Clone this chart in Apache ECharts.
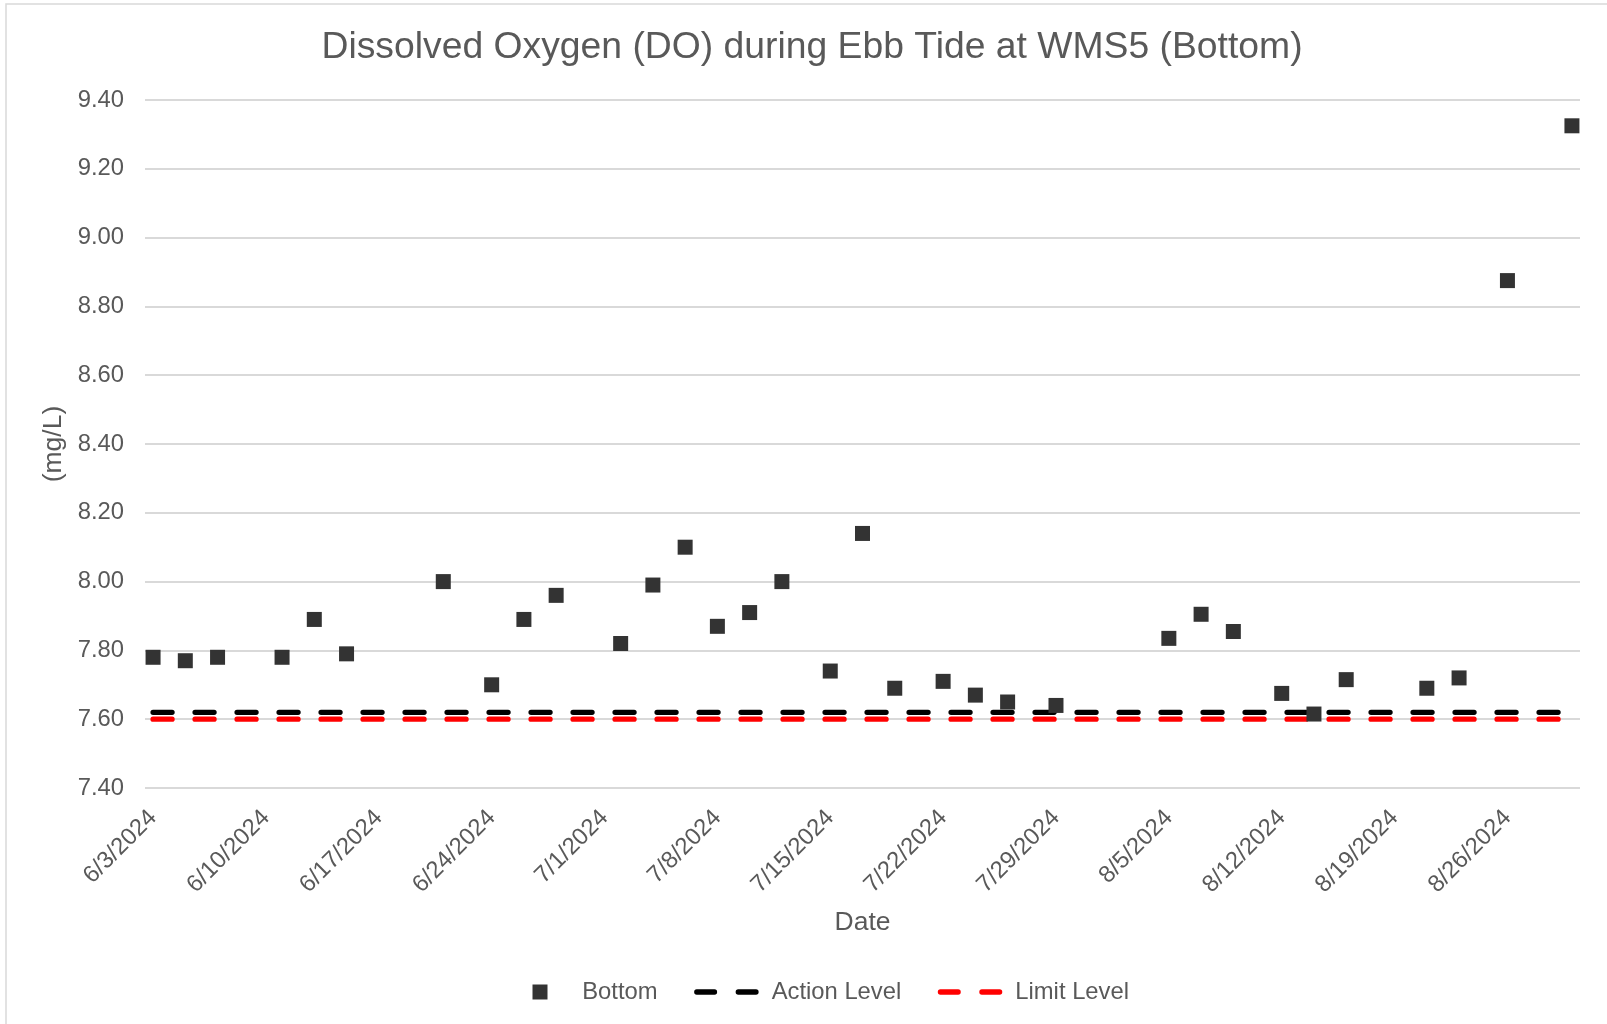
<!DOCTYPE html>
<html>
<head>
<meta charset="utf-8">
<title>Dissolved Oxygen (DO) during Ebb Tide at WMS5 (Bottom)</title>
<script src="https://cdn.jsdelivr.net/npm/echarts@6/dist/echarts.min.js"></script>
<style>
  html, body { margin: 0; padding: 0; background: #ffffff; }
  #chart { width: 1607px; height: 1024px; }
</style>
</head>
<body>
<div id="chart"></div>
<script>
// Sampling dates (bottom-layer DO readings)
const sampleDates = [
  '6/3/2024', '6/5/2024', '6/7/2024', '6/11/2024', '6/13/2024', '6/15/2024',
  '6/21/2024', '6/24/2024', '6/26/2024', '6/28/2024', '7/2/2024', '7/4/2024',
  '7/6/2024', '7/8/2024', '7/10/2024', '7/12/2024', '7/15/2024', '7/17/2024',
  '7/19/2024', '7/22/2024', '7/24/2024', '7/26/2024', '7/29/2024', '8/5/2024',
  '8/7/2024', '8/9/2024', '8/12/2024', '8/14/2024', '8/16/2024', '8/21/2024',
  '8/23/2024', '8/26/2024', '8/30/2024'
];

// Dissolved oxygen, mg/L
const bottomDO = [
  7.78, 7.77, 7.78, 7.78, 7.89, 7.79,
  8.00, 7.70, 7.89, 7.96, 7.82, 7.99,
  8.10, 7.87, 7.91, 8.00, 7.74, 8.14,
  7.69, 7.71, 7.67, 7.65, 7.64, 7.835,
  7.905, 7.855, 7.675, 7.615, 7.715, 7.69,
  7.72, 8.875, 9.325
];

// Compliance levels, mg/L
const actionLevel = 7.62;
const limitLevel = 7.60;

// Date axis span (one slot per day) and its weekly tick labels
const axisStart = '6/3/2024';
const axisEnd = '8/30/2024';
const tickLabels = [
  '6/3/2024', '6/10/2024', '6/17/2024', '6/24/2024', '7/1/2024', '7/8/2024',
  '7/15/2024', '7/22/2024', '7/29/2024', '8/5/2024', '8/12/2024', '8/19/2024',
  '8/26/2024'
];

// Value axis range
const yMin = 7.4;
const yMax = 9.4;
const yStep = 0.2;

// Build the daily category list between the axis ends
function parseMDY(s) {
  const [m, d, y] = s.split('/').map(Number);
  return Date.UTC(y, m - 1, d);
}
function formatMDY(t) {
  const dt = new Date(t);
  return (dt.getUTCMonth() + 1) + '/' + dt.getUTCDate() + '/' + dt.getUTCFullYear();
}
const dayCategories = [];
for (let t = parseMDY(axisStart); t <= parseMDY(axisEnd); t += 86400000) {
  dayCategories.push(formatMDY(t));
}

const bottomPoints = sampleDates.map((d, i) => [d, bottomDO[i]]);
const actionLine = [[axisStart, actionLevel], [axisEnd, actionLevel]];
const limitLine = [[axisStart, limitLevel], [axisEnd, limitLevel]];

const textColor = '#595959';
const fontFamily = 'Liberation Sans, Arial, sans-serif';

// Legend glyphs: a square marker and a pair of round-capped dashes
const squareIcon = 'path://M0,0H15V15H0Z';
const dashIcon = 'path://M2.65,0L20.35,0A2.65,2.65 0 0 1 20.35,5.3L2.65,5.3A2.65,2.65 0 0 1 2.65,0Z' +
  'M44.15,0L61.85,0A2.65,2.65 0 0 1 61.85,5.3L44.15,5.3A2.65,2.65 0 0 1 44.15,0Z';

const chart = echarts.init(document.getElementById('chart'), null, { renderer: 'canvas' });

chart.setOption({
  animation: false,
  backgroundColor: '#ffffff',
  textStyle: { fontFamily: fontFamily, color: textColor },
  graphic: [{
    type: 'rect',
    shape: { x: 6, y: 4, width: 1660, height: 1080 },
    style: { fill: 'none', stroke: '#d9d9d9', lineWidth: 1.5 },
    silent: true,
    z: -10
  }],
  title: {
    text: 'Dissolved Oxygen (DO) during Ebb Tide at WMS5 (Bottom)',
    left: 807,
    top: 24,
    textAlign: 'center',
    textStyle: { fontFamily: fontFamily, fontSize: 37.3, fontWeight: 'normal', color: textColor }
  },
  legend: {
    left: 527.5,
    top: 975,
    itemWidth: 64.5,
    itemHeight: 15,
    itemGap: 36.5,
    symbolKeepAspect: true,
    textStyle: { fontFamily: fontFamily, fontSize: 23.8, color: textColor },
    data: [
      { name: 'Bottom', icon: squareIcon, textStyle: { padding: [0, 0, 0, 5] } },
      { name: 'Action Level', icon: dashIcon, textStyle: { padding: [0, 0, 0, 8] } },
      { name: 'Limit Level', icon: dashIcon, textStyle: { padding: [0, 0, 0, 8] } }
    ]
  },
  grid: { left: 145, right: 27, top: 100, bottom: 236 },
  xAxis: {
    type: 'category',
    data: dayCategories,
    boundaryGap: true,
    name: 'Date',
    nameLocation: 'middle',
    nameGap: 121,
    nameTextStyle: { fontFamily: fontFamily, fontSize: 26.5, color: textColor },
    axisLine: { show: false },
    axisTick: { show: false },
    splitLine: { show: false },
    axisLabel: {
      interval: (idx, val) => tickLabels.indexOf(val) >= 0,
      rotate: 45,
      margin: 26,
      fontFamily: fontFamily,
      fontSize: 23.8,
      color: textColor
    }
  },
  yAxis: {
    type: 'value',
    min: yMin,
    max: yMax,
    interval: yStep,
    name: '(mg/L)',
    nameLocation: 'middle',
    nameGap: 73,
    nameRotate: 90,
    nameTextStyle: { fontFamily: fontFamily, fontSize: 26.5, color: textColor },
    axisLine: { show: false },
    axisTick: { show: false },
    splitLine: { lineStyle: { color: '#d9d9d9', width: 2 } },
    axisLabel: {
      margin: 21,
      fontFamily: fontFamily,
      fontSize: 23.8,
      color: textColor,
      formatter: v => v.toFixed(2)
    }
  },
  series: [
    {
      name: 'Bottom',
      type: 'scatter',
      data: bottomPoints,
      symbol: 'rect',
      symbolSize: 15,
      itemStyle: { color: '#333333', opacity: 1 },
      z: 5
    },
    {
      name: 'Action Level',
      type: 'line',
      data: actionLine,
      symbol: 'none',
      lineStyle: { color: '#000000', width: 5.3, type: [19, 23], cap: 'round' },
      itemStyle: { color: '#000000' },
      z: 3
    },
    {
      name: 'Limit Level',
      type: 'line',
      data: limitLine,
      symbol: 'none',
      lineStyle: { color: '#ff0000', width: 5.3, type: [19, 23], cap: 'round' },
      itemStyle: { color: '#ff0000' },
      z: 2
    }
  ]
});
</script>
</body>
</html>
